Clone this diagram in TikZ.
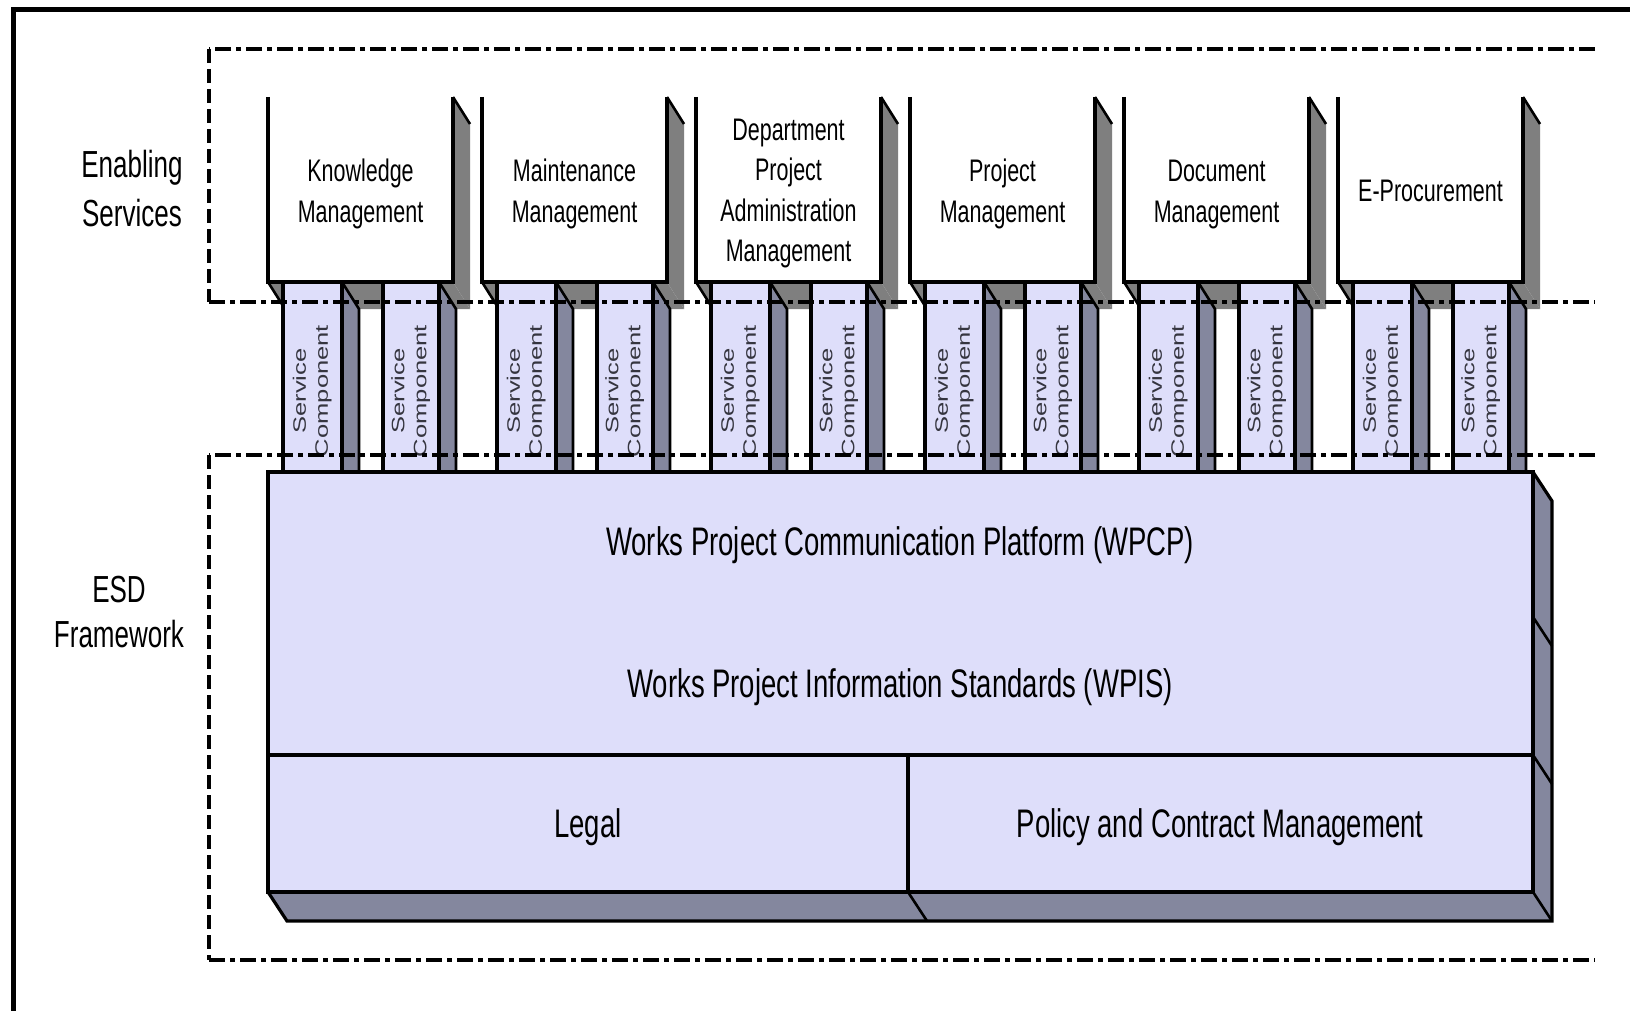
\documentclass[tikz,border=0pt]{standalone}
\usepackage{fontspec}
\setmainfont{Liberation Sans}
\usepackage{graphicx}
\definecolor{lav}{HTML}{DEDEFA}
\definecolor{sideblue}{HTML}{84879E}
\definecolor{boxgray}{HTML}{7F7F7F}
\definecolor{sctxt}{HTML}{35353F}
\newcommand{\vtext}[3]{\scalebox{1}[1.45]{\fontsize{#1}{#2}\selectfont\begin{tabular}{@{}c@{}}#3\end{tabular}}}
\newcommand{\sctext}{\scalebox{1.42}[1]{\fontsize{18}{22}\selectfont\begin{tabular}{@{}c@{}}Service\\Component\end{tabular}}}
\tikzset{
  lw/.style={line width=3.2pt},
  thinlw/.style={line width=2.6pt},
  dashh/.style={line width=3.5pt, dash pattern=on 16pt off 5pt on 5pt off 5pt},
  dashv/.style={line width=3.5pt, dash pattern=on 14pt off 6pt},
  lbl/.style={inner sep=0pt, text=black},
  sclbl/.style={inner sep=0pt, rotate=90, text=sctxt}
}
\begin{document}
\begin{tikzpicture}[x=1pt,y=-1pt,line join=miter]
\useasboundingbox (0,0) rectangle (1630,1011);
\fill[white] (0,0) rectangle (1630,1011);
% outer frame (cropped)
\draw[line width=5pt] (13,1011) -- (13,10) -- (1630,10);

% ---------------- top service boxes ----------------
\foreach \i in {0,...,5} {
  \pgfmathsetmacro{\L}{268+214*\i}
  \pgfmathsetmacro{\R}{\L+185}
  % side and bottom faces
  \fill[boxgray] (\R,97) -- (\R+17,124) -- (\R+17,309) -- (\R,282) -- cycle;
  \fill[boxgray] (\L,282) -- (\L+17,309) -- (\R+17,309) -- (\R,282) -- cycle;
  \draw[thinlw] (\R,97) -- (\R+17,124);
  \draw[thinlw] (\L,282) -- (\L+17,309);
  % service component columns
  \foreach \a/\b in {15/74,115/171} {
    \fill[lav] (\L+\a,282) rectangle (\L+\b,472);
    \fill[sideblue] (\L+\b,282) -- (\L+\b+17,309) -- (\L+\b+17,472) -- (\L+\b,472) -- cycle;
    \draw[lw] (\L+\a,282) -- (\L+\a,472);
    \draw[lw] (\L+\b,282) -- (\L+\b,472);
    \draw[thinlw] (\L+\b,282) -- (\L+\b+17,309) -- (\L+\b+17,472);
    \node[sclbl] (sc-\i-\a) at ({\L+(\a+\b)/2},391) {\sctext};
  }
  % front (open at top)
  \fill[white] (\L,97) rectangle (\R,282);
  \draw[lw] (\L,97) -- (\L,282) -- (\R,282) -- (\R,97);
}

\node[lbl] (km)  at (360.5,194) {\vtext{21.5}{27.6}{Knowledge\\Management}};
\node[lbl] (mm)  at (574.5,194) {\vtext{21.5}{27.6}{Maintenance\\Management}};
\node[lbl] (dpa) at (788.5,193) {\vtext{21.5}{27.6}{Department\\Project\\Administration\\Management}};
\node[lbl] (pm)  at (1002.5,194) {\vtext{21.5}{27.6}{Project\\Management}};
\node[lbl] (dm)  at (1216.5,194) {\vtext{21.5}{27.6}{Document\\Management}};
\node[lbl] (ep)  at (1430.5,193) {\vtext{21.5}{27.6}{E-Procurement}};

% ---------------- ESD framework block ----------------
\fill[sideblue] (1533,472) -- (1552,501) -- (1552,921) -- (1533,892) -- cycle;
\fill[sideblue] (268,892) -- (287,921) -- (1552,921) -- (1533,892) -- cycle;
\draw[lw] (1533,472) -- (1552,501) -- (1552,921) -- (287,921) -- (268,892);
\draw[thinlw] (1533,617) -- (1552,646);
\draw[thinlw] (1533,755) -- (1552,784);
\draw[thinlw] (1533,892) -- (1552,921);
\draw[thinlw] (908,892) -- (927,921);
\draw[lw, fill=lav] (268,472) rectangle (1533,892);
\draw[lw] (268,755) -- (1533,755);
\draw[lw] (908,755) -- (908,892);

\node[lbl] (wpcp)   at (900,547) {\vtext{27.5}{30}{Works Project Communication Platform (WPCP)}};
\node[lbl] (wpis)   at (900,689) {\vtext{27.5}{30}{Works Project Information Standards (WPIS)}};
\node[lbl] (legal)  at (588,829) {\vtext{27.5}{30}{Legal}};
\node[lbl] (policy) at (1220,829) {\vtext{27.5}{30}{Policy and Contract Management}};

% ---------------- dashed group outlines ----------------
\draw[dashh] (1595,49) -- (209,49);
\draw[dashv] (209,49) -- (209,302);
\draw[dashh] (209,302) -- (1595,302);
\draw[dashh] (1595,455) -- (209,455);
\draw[dashv] (209,455) -- (209,960);
\draw[dashh] (209,960) -- (1595,960);

% ---------------- side labels ----------------
\node[lbl] (enab) at (132,192) {\vtext{26}{33.8}{Enabling\\Services}};
\node[lbl] (esd)  at (119,616) {\vtext{26}{31}{ESD\\Framework}};
\end{tikzpicture}
\end{document}
